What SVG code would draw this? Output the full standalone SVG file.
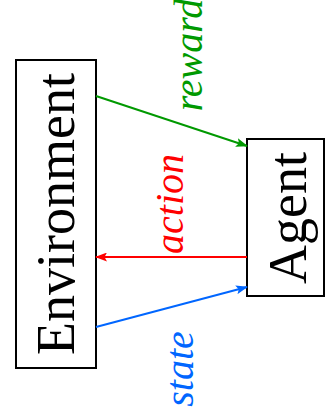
<svg xmlns="http://www.w3.org/2000/svg" width="325" height="416" viewBox="0 0 325 416">
<style>
.box{fill:#fff;stroke:#000;stroke-width:2}
.big{font-family:"Liberation Serif",serif;font-size:54px;fill:#000;text-anchor:middle}
.lbl{font-family:"Liberation Serif",serif;font-style:italic;font-size:40px;text-anchor:middle}
.conn{fill:none;stroke-width:2}
</style>
<defs>
<marker id="ag" viewBox="0 0 12 9" refX="11" refY="4.5" markerWidth="12" markerHeight="9" markerUnits="userSpaceOnUse" orient="auto"><path d="M0,0 L12,4.5 L0,9 L2.5,4.5 z" fill="#009900"/></marker>
<marker id="ar" viewBox="0 0 12 9" refX="11" refY="4.5" markerWidth="12" markerHeight="9" markerUnits="userSpaceOnUse" orient="auto"><path d="M0,0 L12,4.5 L0,9 L2.5,4.5 z" fill="#ff0000"/></marker>
<marker id="ab" viewBox="0 0 12 9" refX="11" refY="4.5" markerWidth="12" markerHeight="9" markerUnits="userSpaceOnUse" orient="auto"><path d="M0,0 L12,4.5 L0,9 L2.5,4.5 z" fill="#0066ff"/></marker>
</defs>
<rect width="325" height="416" fill="#fff"/>
<g id="environment">
<rect class="box" x="16" y="60" width="80" height="308"/>
<text class="big" transform="translate(74,214) rotate(-90)">Environment</text>
</g>
<g id="agent">
<rect class="box" x="247" y="139" width="77" height="157"/>
<text class="big" transform="translate(306,218) rotate(-90)">Agent</text>
</g>
<g id="connectors">
<line class="conn" x1="96" y1="96" x2="247" y2="146" stroke="#009900" marker-end="url(#ag)"/>
<line class="conn" x1="247" y1="257" x2="96" y2="257" stroke="#ff0000" marker-end="url(#ar)"/>
<line class="conn" x1="96" y1="327" x2="247" y2="287" stroke="#0066ff" marker-end="url(#ab)"/>
<text class="lbl" fill="#009900" transform="translate(202,55) rotate(-90)">reward</text>
<text class="lbl" fill="#ff0000" transform="translate(183,204) rotate(-90)">action</text>
<text class="lbl" fill="#0066ff" transform="translate(193,369) rotate(-90)">state</text>
</g>
</svg>
